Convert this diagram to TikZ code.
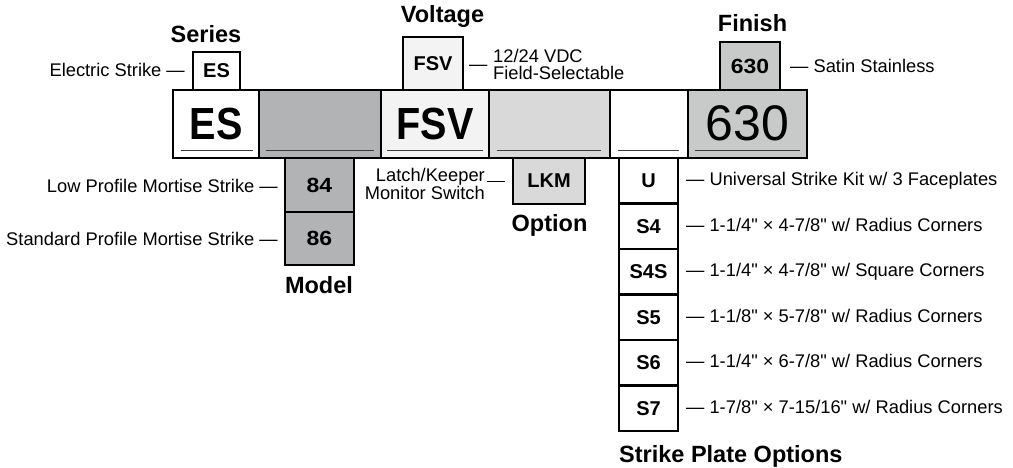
\documentclass[tikz,border=0pt]{standalone}
\usepackage{fontspec}
\setmainfont{Liberation Sans}[Ligatures=TeXOff]
\newfontfamily\narrowfont{Liberation Sans}[FakeStretch=0.88]
\newfontfamily\digitfont{Liberation Sans}[FakeStretch=1.12]
\newcommand\lbltxt{\fontsize{18.3}{20}\selectfont}
\newcommand\headtxt{\fontsize{23.5}{26}\selectfont\bfseries}
\newcommand\bigtxt{\fontsize{45}{45}\selectfont\narrowfont\bfseries}
\newcommand\bigdig{\fontsize{50}{50}\selectfont}
\newcommand\smalltxt{\fontsize{20}{22}\selectfont\bfseries}
\newcommand\smalldig{\fontsize{20.5}{22}\selectfont\digitfont\bfseries}
\definecolor{modelgray}{HTML}{B2B3B4}
\definecolor{optgray}{HTML}{D9D9D9}
\definecolor{fingray}{HTML}{C8C9C9}
\definecolor{fsvfill}{HTML}{F3F3F3}
\definecolor{ulcol}{HTML}{3C3C3C}
\begin{document}
\begin{tikzpicture}[x=1pt,y=-1pt,
  mainbox/.style={draw=black,line width=2.6pt,inner sep=0pt,minimum height=68pt},
  subbox/.style={draw=black,line width=2.2pt,inner sep=0pt},
  uline/.style={draw=ulcol,line width=1.5pt},
  lab/.style={inner sep=0pt,font=\lbltxt},
  head/.style={inner sep=0pt,font=\headtxt}]
\useasboundingbox[fill=white] (0,0) rectangle (1013,468);

% top small boxes
\node[subbox,fill=white,minimum width=47pt,minimum height=38pt] (ses) at (216.5,71) {\smalltxt ES};
\node[subbox,fill=fsvfill,minimum width=60pt,minimum height=53pt] (sfsv) at (433,63.5) {\smalltxt FSV};
\node[subbox,fill=fingray,minimum width=60pt,minimum height=48pt] (s630) at (750,66) {\smalldig\raisebox{-2pt}{630}};

% main row
\node[mainbox,fill=white,minimum width=86pt] (es) at (216,124) {\bigtxt ES};
\node[mainbox,fill=modelgray,minimum width=122pt] (model) at (320,124) {};
\node[mainbox,fill=fsvfill,minimum width=108pt] (fsv) at (435,124) {\bigtxt FSV};
\node[mainbox,fill=optgray,minimum width=121pt] (opt) at (549.5,124) {};
\node[mainbox,fill=white,minimum width=78pt] (blank) at (649,124) {};
\node[mainbox,fill=fingray,minimum width=119pt] (fin) at (747.5,124) {\bigdig\raisebox{1pt}{630}};

% underlines
\draw[uline] ([xshift=9pt,yshift=9pt]es.south west) -- ([xshift=-7pt,yshift=9pt]es.south east);
\draw[uline] ([xshift=8pt,yshift=9pt]model.south west) -- ([xshift=-8pt,yshift=9pt]model.south east);
\draw[uline] ([xshift=7pt,yshift=9pt]fsv.south west) -- ([xshift=-7pt,yshift=9pt]fsv.south east);
\draw[uline] ([xshift=9pt,yshift=9pt]opt.south west) -- ([xshift=-10pt,yshift=9pt]opt.south east);
\draw[uline] ([xshift=9pt,yshift=9pt]blank.south west) -- ([xshift=-10pt,yshift=9pt]blank.south east);
\draw[uline] ([xshift=8pt,yshift=9pt]fin.south west) -- ([xshift=-8pt,yshift=9pt]fin.south east);

% model boxes
\node[subbox,fill=modelgray,minimum width=69pt,minimum height=54pt] (m84) at (319.5,185) {\smalldig 84};
\node[subbox,fill=modelgray,minimum width=69pt,minimum height=53pt] (m86) at (319.5,238.5) {\smalldig 86};

% option box
\node[subbox,fill=optgray,minimum width=72pt,minimum height=46pt] (lkm) at (549,181) {\smalltxt LKM};

% strike plate column
\node[subbox,fill=white,minimum width=59pt,minimum height=45.5pt] (u) at (648.5,180.75) {\smalltxt U};
\node[subbox,fill=white,minimum width=59pt,minimum height=45.5pt] (s4) at (648.5,226.25) {\smalltxt S4};
\node[subbox,fill=white,minimum width=59pt,minimum height=45.5pt] (s4s) at (648.5,271.75) {\smalltxt S4S};
\node[subbox,fill=white,minimum width=59pt,minimum height=45.5pt] (s5) at (648.5,317.25) {\smalltxt S5};
\node[subbox,fill=white,minimum width=59pt,minimum height=45.5pt] (s6) at (648.5,362.75) {\smalltxt S6};
\node[subbox,fill=white,minimum width=59pt,minimum height=45.5pt] (s7) at (648.5,408.25) {\smalltxt S7};

% headings
\node[head,anchor=base] (hseries) at (206,43) {Series};
\node[head,anchor=base] (hvolt) at (442.5,23) {Voltage};
\node[head,anchor=base] (hfin) at (752.5,32) {Finish};
\node[head,anchor=base] (hmodel) at (319,293) {Model};
\node[head,anchor=base] (hopt) at (549.5,232) {Option};
\node[head,anchor=base west] (hstrike) at (619,462) {Strike Plate Options};

% descriptions
\node[lab,anchor=base east] (dses) at (185,77) {Electric Strike —};
\node[lab,anchor=base west] (dfsvdash) at (469,70.5) {—};
\node[lab,anchor=base west] (dfsv1) at (493,63) {12/24 VDC};
\node[lab,anchor=base west] (dfsv2) at (493,80) {Field-Selectable};
\node[lab,anchor=base west] (dfin) at (790,73) {— Satin Stainless};
\node[lab,anchor=base east] (d84) at (278,193) {Low Profile Mortise Strike —};
\node[lab,anchor=base east] (d86) at (278,246) {Standard Profile Mortise Strike —};
\node[lab,anchor=base east] (dlkm1) at (485,182) {Latch/Keeper};
\node[lab,anchor=base east] (dlkm2) at (485,200) {Monitor Switch};
\draw[line width=1pt] ([xshift=2pt]dlkm1.base east) -- ([xshift=20pt]dlkm1.base east);
\node[lab,anchor=base west] (du) at (686,185.75) {— Universal Strike Kit w/ 3 Faceplates};
\node[lab,anchor=base west] (ds4) at (686,231.25) {— 1-1/4" × 4-7/8" w/ Radius Corners};
\node[lab,anchor=base west] (ds4s) at (686,276.75) {— 1-1/4" × 4-7/8" w/ Square Corners};
\node[lab,anchor=base west] (ds5) at (686,322.25) {— 1-1/8" × 5-7/8" w/ Radius Corners};
\node[lab,anchor=base west] (ds6) at (686,367.75) {— 1-1/4" × 6-7/8" w/ Radius Corners};
\node[lab,anchor=base west] (ds7) at (686,413.25) {— 1-7/8" × 7-15/16" w/ Radius Corners};
\end{tikzpicture}
\end{document}
